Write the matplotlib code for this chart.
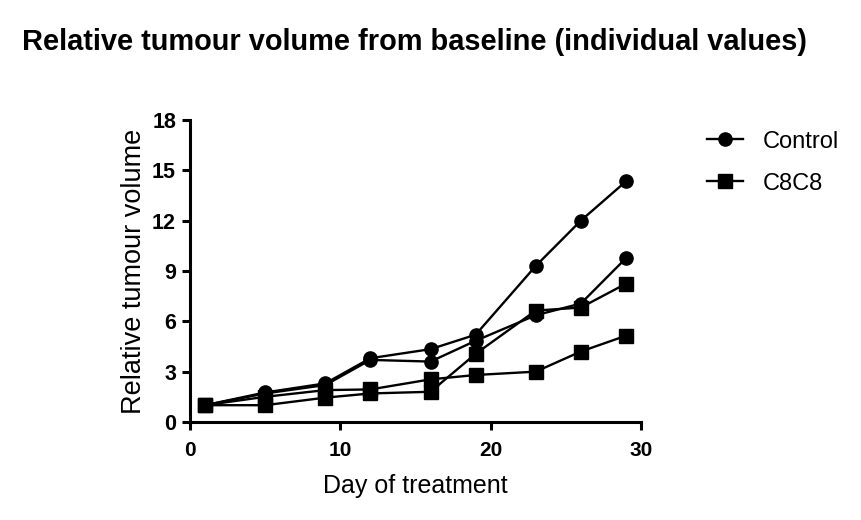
import matplotlib.pyplot as plt

plt.rcParams['font.family'] = ['Liberation Sans', 'DejaVu Sans']

days = [1, 5, 9, 12, 16, 19, 23, 26, 29]

# control animals
control_a = [1.0, 1.76, 2.3, 3.8, 4.34, 5.2, 9.3, 12.0, 14.34]
control_b = [1.0, 1.7, 2.2, 3.7, 3.6, 4.84, 6.36, 7.06, 9.76]

# C8C8 animals
c8c8_a = [1.0, 1.0, 1.45, 1.7, 1.8, 4.06, 6.64, 6.82, 8.24]
c8c8_b = [1.0, 1.5, 1.9, 1.94, 2.54, 2.8, 3.0, 4.2, 5.14]

fig = plt.figure(figsize=(8.62, 5.2), dpi=100)
ax = fig.add_axes([0.2204, 0.1885, 0.5232, 0.5808])

style = dict(color='black', linewidth=1.7, markersize=9.5)
ax.plot(days, control_a, marker='o', label='Control', **style)
ax.plot(days, control_b, marker='o', **style)
ax.plot(days, c8c8_a, marker='s', label='C8C8', **style)
ax.plot(days, c8c8_b, marker='s', **style)

ax.set_xlim(0, 30)
ax.set_ylim(0, 18)
ax.set_xticks([0, 10, 20, 30])
ax.set_yticks([0, 3, 6, 9, 12, 15, 18])
ax.spines['top'].set_visible(False)
ax.spines['right'].set_visible(False)
ax.spines['left'].set_linewidth(2.2)
ax.spines['bottom'].set_linewidth(2.2)
ax.tick_params(width=2.2, length=6)
ax.tick_params(axis='x', labelsize=15, pad=8)
ax.tick_params(axis='y', labelsize=15.5, pad=4)
for lab in ax.get_xticklabels() + ax.get_yticklabels():
    lab.set_fontweight('bold')
ax.set_xlabel('Day of treatment', fontsize=18, labelpad=10)
ax.set_ylabel('Relative tumour volume', fontsize=19.5, labelpad=4)

ax.legend(loc='upper left', bbox_to_anchor=(1.1, 1.035), frameon=False,
          fontsize=17, handlelength=1.5, labelspacing=0.85, handletextpad=0.85)

fig.text(0.025, 0.92, 'Relative tumour volume from baseline (individual values)',
         fontsize=20.9, fontweight='bold', va='center')

fig.savefig('out.png', dpi=100)
